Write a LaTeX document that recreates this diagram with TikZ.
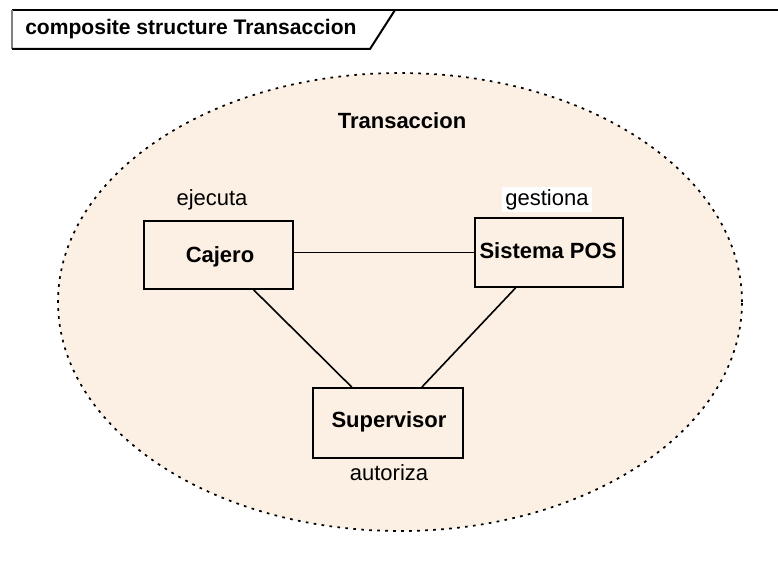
\documentclass[tikz,border=0pt]{standalone}
\usepackage{fontspec}
\setmainfont{Liberation Sans}
\usetikzlibrary{shapes.geometric}
\definecolor{partfill}{HTML}{FBF0E3}
\tikzset{
  part/.style={draw=black, line width=1.3pt, inner sep=0pt, fill=partfill},
  partname/.style={font=\fontsize{16.5}{18}\selectfont\bfseries, inner sep=0pt},
  rolename/.style={font=\fontsize{16.5}{18}\selectfont, inner sep=0pt},
  connector/.style={draw=black, line width=1.2pt},
  framebox/.style={draw=black, line width=1.5pt},
}
\begin{document}
\begin{tikzpicture}[x=0.75pt,y=-0.75pt]
\useasboundingbox (0,0) rectangle (778,574);

% diagram frame with its name tab
\draw[framebox] (12,10) -- (778,10);
\draw[draw=gray, line width=1pt] (12,10) -- (12,49);
\draw[framebox] (12,49) -- (370,49) -- (395,10);
\node[partname, font=\fontsize{15.8}{18}\selectfont\bfseries, anchor=base west] (frametitle) at (25,35) {composite structure Transaccion};

% the structured classifier
\node[ellipse, fill=partfill, draw=black, line width=1.3pt, dash pattern=on 2pt off 4pt,
      minimum width=513pt, minimum height=343.5pt, inner sep=0pt] (trans) at (400,302) {};
\node[partname, anchor=base] (transname) at (402,129) {Transaccion};

% parts
\node[part, minimum width=111.75pt, minimum height=51pt] (caj) at (218.5,255) {};
\node[part, minimum width=111pt, minimum height=51.75pt] (pos) at (549,252.5) {};
\node[part, minimum width=112.5pt, minimum height=52.5pt] (sup) at (388,423) {};

\node[partname, anchor=base] (cajname) at (220,262) {Cajero};
\node[partname, anchor=base] (posname) at (548,258) {Sistema POS};
\node[partname, anchor=base] (supname) at (389,427) {Supervisor};

% role names
\node[rolename, anchor=base] (ejecuta) at (212,205) {ejecuta};
\node[rolename, fill=white, minimum width=67.5pt, minimum height=18.75pt] (gestiona) at (547,199.5) {gestiona};
\node[rolename, anchor=base] (autoriza) at (389,480) {autoriza};

% connectors
\draw[connector] (caj.east |- pos.west) -- (pos.west);
\draw[connector] (caj) -- (sup);
\draw[connector] (pos) -- (sup);
\end{tikzpicture}
\end{document}
